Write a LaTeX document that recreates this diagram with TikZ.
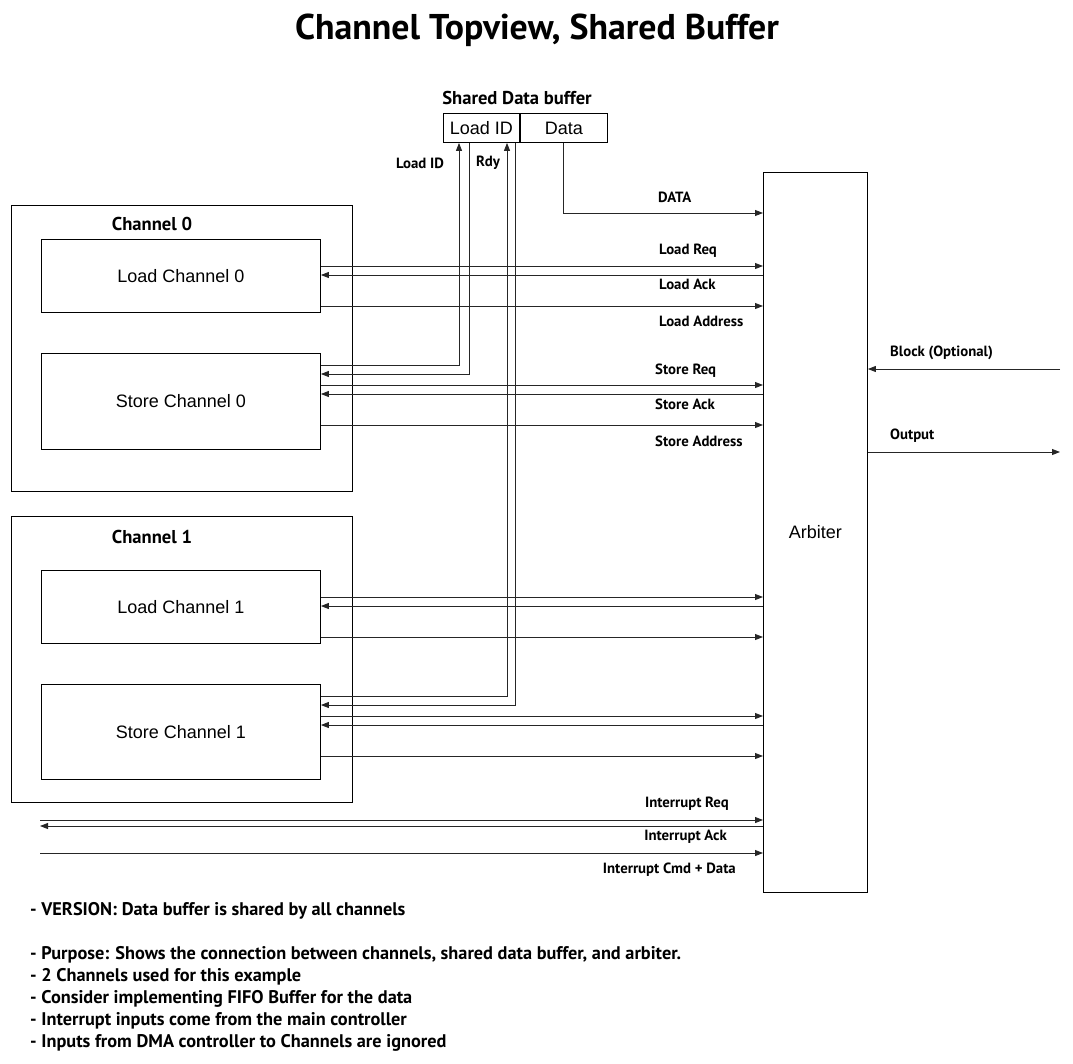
\documentclass[tikz,border=0pt]{standalone}
\usepackage{fontspec}
\setmainfont{Liberation Sans}
\newfontfamily\lblfont{PT Sans}
\usetikzlibrary{positioning,arrows.meta,calc}

\begin{document}
\begin{tikzpicture}[
  x=1pt, y=-1pt,
  box/.style={draw, line width=0.9pt, anchor=north west, inner sep=0pt,
              font=\fontsize{18}{20}\selectfont},
  chan/.style={box, minimum width=341pt, minimum height=286pt},
  part/.style={box, minimum width=279pt},
  sig/.style={-{Triangle[length=8pt,width=6pt]}, line width=0.9pt, draw=black!85},
  lbl/.style={font=\lblfont\bfseries\fontsize{14.8}{17}\selectfont, inner sep=0pt},
  head/.style={font=\lblfont\bfseries\fontsize{18.6}{21}\selectfont, inner sep=0pt},
  note/.style={font=\lblfont\bfseries\fontsize{18.3}{21}\selectfont, anchor=west, inner sep=0pt},
]
\useasboundingbox (0,0) rectangle (1073,1063);

\node[font=\lblfont\bfseries\fontsize{35.8}{40}\selectfont] (title) at (537,30) {Channel Topview, Shared Buffer};

% channels
\node[chan] (ch0) at (11,205) {};
\node[chan] (ch1) at (11,516) {};
\node[head] at (152,224) {Channel 0};
\node[head] at (152,537) {Channel 1};
\node[part, minimum height=73pt] (lc0) at ($(ch0.north west)+(30,34)$) {Load Channel 0};
\node[part, minimum height=96pt] (sc0) at ($(ch0.north west)+(30,148)$) {Store Channel 0};
\node[part, minimum height=73pt] (lc1) at ($(ch1.north west)+(30,54)$) {Load Channel 1};
\node[part, minimum height=95pt] (sc1) at ($(ch1.north west)+(30,168)$) {Store Channel 1};

% shared buffer and arbiter
\node[box, minimum width=76pt, minimum height=29pt] (lid) at (443,113) {Load ID};
\node[box, minimum width=87pt, minimum height=29pt, anchor=west] (data) at (lid.east) {Data};
\node[head] at (517,98) {Shared Data buffer};
\node[box, minimum width=104pt, minimum height=720pt] (arb) at (763,172) {Arbiter};

% channel <-> arbiter
\foreach \n/\d in {lc0/27, lc1/27, sc0/32, sc1/32} {
  \draw[sig] ($(\n.north east)+(0,\d)$) -- ($(\n.north east -| arb.west)+(0,\d)$);
  \draw[sig] ($(\n.north east -| arb.west)+(0,\d+9)$) -- ($(\n.north east)+(0,\d+9)$);
  \draw[sig] ($(\n.north east)+(0,\d+40)$) -- ($(\n.north east -| arb.west)+(0,\d+40)$);
}

% store channels <-> shared buffer
\foreach \n/\a/\b in {sc0/16/26, sc1/64/72} {
  \draw[sig] ($(\n.north east)+(0,12)$) -| ($(lid.south west)+(\a,0)$);
  \draw[sig] ($(lid.south west)+(\b,0)$) |- ($(\n.north east)+(0,21)$);
}
\draw[sig] (data.south) |- ($(arb.north west)+(0,41)$);

% interrupts
\coordinate (ireq) at (40,820);
\coordinate (iack) at (40,826);
\coordinate (icmd) at (40,853);
\draw[sig] (ireq) -- (ireq -| arb.west);
\draw[sig] (iack -| arb.west) -- (iack);
\draw[sig] (icmd) -- (icmd -| arb.west);

% arbiter outside
\coordinate (blk) at (1060,369);
\coordinate (out) at (1060,452);
\draw[sig] (blk) -- (blk -| arb.east);
\draw[sig] (out -| arb.east) -- (out);

% signal labels
\node[lbl] at (420,163) {Load ID};
\node[lbl] at (488,163) {Rdy};
\node[lbl, anchor=west] at (658,197) {DATA};
\node[lbl, anchor=west] at (659,251) {Load Req};
\node[lbl, anchor=west] at (659,284) {Load Ack};
\node[lbl, anchor=west] at (659,321) {Load Address};
\node[lbl, anchor=west] at (655,371) {Store Req};
\node[lbl, anchor=west] at (655,404) {Store Ack};
\node[lbl, anchor=west] at (655,441) {Store Address};
\node[lbl, anchor=east] at (729,804) {Interrupt Req};
\node[lbl, anchor=east] at (727,837) {Interrupt Ack};
\node[lbl, anchor=east] at (736,870) {Interrupt Cmd + Data};
\node[lbl, anchor=west] at (890,353) {Block (Optional)};
\node[lbl, anchor=west] at (890,436) {Output};

% notes
\node[note] at (30,911) {- VERSION: Data buffer is shared by all channels};
\node[note] at (30,955) {- Purpose: Shows the connection between channels, shared data buffer, and arbiter.};
\node[note] at (30,977) {- 2 Channels used for this example};
\node[note] at (30,999) {- Consider implementing FIFO Buffer for the data};
\node[note] at (30,1021) {- Interrupt inputs come from the main controller};
\node[note] at (30,1043) {- Inputs from DMA controller to Channels are ignored};
\end{tikzpicture}
\end{document}
